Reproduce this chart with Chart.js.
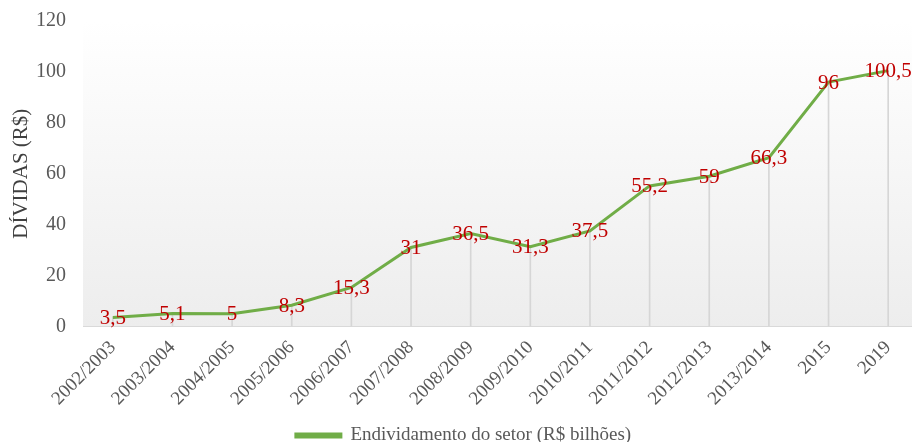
<!DOCTYPE html>
<html>
<head>
<meta charset="utf-8">
<script src="https://cdn.jsdelivr.net/npm/chart.js@4/dist/chart.umd.min.js"></script>
<style>
  html, body { margin: 0; padding: 0; background: #fff; overflow: hidden; }
  #wrap { width: 920px; height: 442px; }
</style>
</head>
<body>
<div id="wrap"><canvas id="divChart" width="920" height="442"></canvas></div>
<script>
// dados
const periodos = ['2002/2003', '2003/2004', '2004/2005', '2005/2006', '2006/2007', '2007/2008',
  '2008/2009', '2009/2010', '2010/2011', '2011/2012', '2012/2013', '2013/2014', '2015', '2019'];
const endividamento = [3.5, 5.1, 5, 8.3, 15.3, 31, 36.5, 31.3, 37.5, 55.2, 59, 66.3, 96, 100.5];
const yTicks = [0, 20, 40, 60, 80, 100, 120];

const serif = "'Liberation Serif', 'DejaVu Serif', serif";

// fundo em degradê da área do gráfico
const bgPlugin = {
  id: 'bgGrad',
  beforeDraw(chart) {
    const { ctx, chartArea } = chart;
    const g = ctx.createLinearGradient(0, chartArea.top, 0, chartArea.bottom);
    g.addColorStop(0, '#ffffff');
    g.addColorStop(1, '#ededed');
    ctx.save();
    ctx.fillStyle = g;
    ctx.fillRect(chartArea.left, chartArea.top, chartArea.right - chartArea.left, chartArea.bottom - chartArea.top);
    ctx.restore();
  }
};

// rótulos de dados em vermelho
const labelPlugin = {
  id: 'valLabels',
  afterDatasetsDraw(chart) {
    const ctx = chart.ctx;
    const meta = chart.getDatasetMeta(0);
    ctx.save();
    ctx.font = '21px ' + serif;
    ctx.fillStyle = '#c00000';
    ctx.textAlign = 'center';
    ctx.textBaseline = 'middle';
    meta.data.forEach((pt, i) => {
      const txt = String(endividamento[i]).replace('.', ',');
      ctx.fillText(txt, pt.x, pt.y + 1);
    });
    ctx.restore();
  }
};

new Chart(document.getElementById('divChart').getContext('2d'), {
  type: 'line',
  data: {
    labels: periodos,
    datasets: [
      {
        label: 'Endividamento do setor (R$ bilhões)',
        data: endividamento,
        borderColor: '#70ad47',
        backgroundColor: '#70ad47',
        borderWidth: 3,
        pointRadius: 0,
        tension: 0,
        order: 1,
      },
      {
        type: 'bar',
        label: 'drop',
        data: endividamento,
        backgroundColor: '#d6d6d6',
        barThickness: 1,
        order: 2,
      },
    ],
  },
  options: {
    responsive: false,
    animation: false,
    layout: { padding: { top: 21, right: 2, left: 9, bottom: -13 } },
    plugins: {
      tooltip: { enabled: false },
      legend: {
        position: 'bottom',
        labels: {
          filter: (item) => item.datasetIndex === 0,
          boxWidth: 45,
          boxHeight: 3,
          color: '#595959',
          font: { family: serif, size: 19 },
          padding: 0,
        },
      },
    },
    scales: {
      x: {
        offset: true,
        grid: { display: false, drawTicks: false },
        border: { display: true, color: '#d9d9d9', width: 1 },
        ticks: {
          color: '#595959',
          font: { family: serif, size: 19 },
          minRotation: 45,
          maxRotation: 45,
          autoSkip: false,
          padding: 10,
        },
        afterFit: (scale) => {
          scale.paddingLeft = 0;
          scale.paddingRight = 0;
          scale.height += 6;
        },
      },
      y: {
        min: 0,
        max: 120,
        afterBuildTicks: (axis) => { axis.ticks = yTicks.map(v => ({ value: v })); },
        grid: { display: false, drawTicks: false },
        border: { display: false },
        ticks: {
          color: '#595959',
          font: { family: serif, size: 20 },
          padding: 17,
        },
        title: {
          display: true,
          text: 'DÍVIDAS (R$)',
          color: '#404040',
          font: { family: serif, size: 21 },
          padding: { top: 0, bottom: 2 },
        },
        afterFit: (scale) => {
          scale.width = 74;
          scale.paddingTop = 0;
          scale.paddingBottom = 0;
        },
      },
    },
  },
  plugins: [bgPlugin, labelPlugin],
});
</script>
</body>
</html>
